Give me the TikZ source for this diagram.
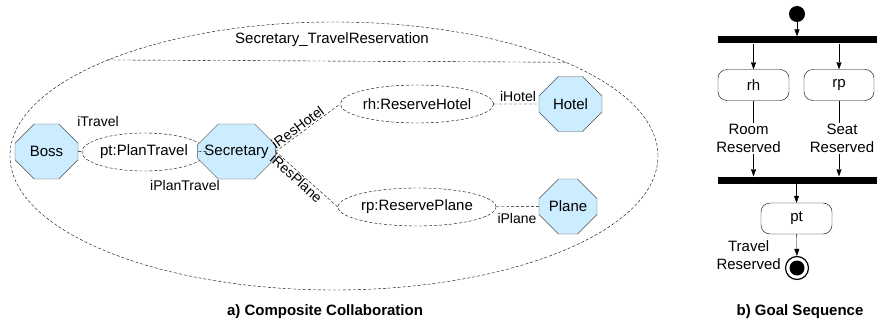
\documentclass[tikz,border=0pt]{standalone}
\usepackage{fontspec}
\setmainfont{Liberation Sans}
\usetikzlibrary{positioning,arrows.meta,shapes.geometric,shapes.misc}
\definecolor{rolefill}{HTML}{CCECFF}
\definecolor{roledraw}{HTML}{4D4D4D}

\begin{document}
\begin{tikzpicture}[x=1pt,y=-1pt,every node/.style={font=\fontsize{15}{18}\selectfont,align=center},
    role/.style={chamfered rectangle,draw=roledraw,fill=rolefill,inner sep=0pt,minimum width=63pt,minimum height=55pt,
                 chamfered rectangle xsep=16pt,chamfered rectangle ysep=14pt},
    collab/.style={ellipse,draw,dash pattern=on 3pt off 2pt,inner sep=0pt},
    port/.style={font=\fontsize{14}{16}\selectfont},
    conn/.style={draw,dash pattern=on 3pt off 2pt},
    act/.style={draw,rounded corners=9pt,minimum width=71pt,minimum height=31pt},
    bar/.style={fill=black,inner sep=0pt,minimum width=159pt,minimum height=7pt},
    flow/.style={-{Triangle[length=7pt,width=5pt]}},
    caption/.style={font=\bfseries\fontsize{15}{18}\selectfont}]
  \useasboundingbox (0,0) rectangle (877,321);
  % a) composite collaboration
  \node[collab,minimum width=648pt,minimum height=268pt] (outer) at (334,156) {};
  \node (title) at (332,40) {Secretary\_TravelReservation};
  \draw[conn] (outer.157.4) -- (outer.22.6);
  \node[role] (boss) at (46.5,151.5) {Boss};
  \node[collab,minimum width=102pt,minimum height=38pt] (pt) at (144,152) {pt:PlanTravel};
  \node[role,minimum width=67pt] (sec) at (236.5,151.5) {Secretary};
  \node[collab,minimum width=134pt,minimum height=38pt] (rh) at (417,104) {rh:ReserveHotel};
  \node[collab,minimum width=134pt,minimum height=38pt] (rp) at (417,207) {rp:ReservePlane};
  \node[role] (hotel) at (570.5,104) {Hotel};
  \node[role,minimum width=58pt] (plane) at (568,206.5) {Plane};
  \node[port] (itravel) at (98,121) {iTravel};
  \node[port] (iplantravel) at (185,185) {iPlanTravel};
  \node[port] (ihotel) at (518,96) {iHotel};
  \node[port] (iplane) at (517,218) {iPlane};
  \draw[conn] (boss) -- (pt);
  \draw[conn] (pt) -- (sec);
  \draw[conn] (sec.east) -- node[port,sloped,above,pos=0.4,inner sep=1pt] {iResHotel} (rh.west);
  \draw[conn] (sec.east) -- node[port,sloped,below,pos=0.4,inner sep=1pt] {iResPlane} (rp.west);
  \draw[conn] (rh) -- (hotel);
  \draw[conn] (rp) -- (plane);
  \node[caption] (capa) at (325,312) {a) Composite Collaboration};
  % b) goal sequence
  \node[circle,fill=black,minimum size=16pt,inner sep=0pt] (init) at (797,14) {};
  \node[bar] (fork) at (797.5,40) {};
  \node[act] (arh) at (753.5,85) {rh};
  \node[act,minimum width=70pt] (arp) at (839,85) {rp};
  \node[bar] (join) at (797.5,180) {};
  \node[act] (apt) at (796.5,218.5) {pt};
  \node[circle,draw,line width=1.2pt,minimum size=23pt,inner sep=0pt,
        path picture={\fill (path picture bounding box.center) circle (7.5pt);}] (final) at (797,268) {};
  \draw[flow] (init) -- (init |- fork.north);
  \draw[flow] (arh.north |- fork.south) -- (arh);
  \draw[flow] (arp.north |- fork.south) -- (arp);
  \draw[flow] (arh) -- node[fill=white,inner sep=1pt,xshift=-5pt] {Room\\Reserved} (arh.south |- join.north);
  \draw[flow] (arp) -- node[fill=white,inner sep=1pt,xshift=3pt] {Seat\\Reserved} (arp.south |- join.north);
  \draw[flow] (join.south -| apt.north) -- (apt);
  \draw[flow] (apt) -- (final);
  \node[anchor=east,inner sep=1pt] (travelrsv) at ([xshift=-3pt,yshift=13pt]final.west) {Travel\\Reserved};
  \node[caption] (capb) at (800,312) {b) Goal Sequence};
\end{tikzpicture}
\end{document}
